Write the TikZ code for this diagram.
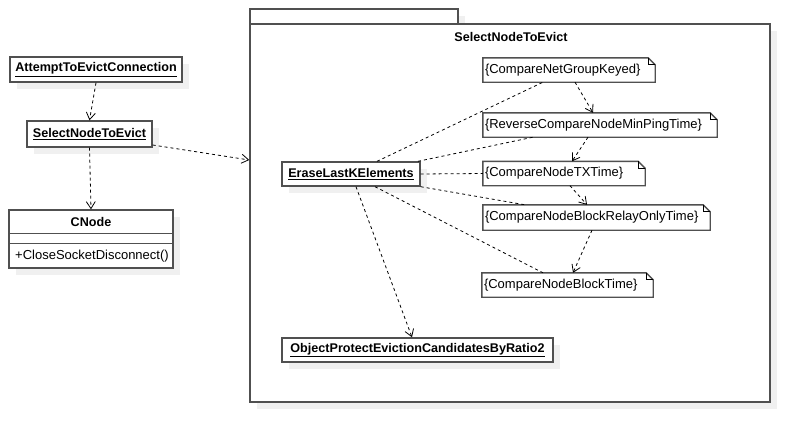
\documentclass[tikz,border=0pt]{standalone}
\usepackage{fontspec}
\setmainfont{Liberation Sans}
\usetikzlibrary{arrows.meta,shadows}
\definecolor{bord}{RGB}{80,80,80}
\definecolor{shad}{RGB}{240,240,240}
\tikzset{
  shd/.style={drop shadow={shadow xshift=7pt, shadow yshift=-7pt, fill=shad, opacity=1}},
  objbox/.style={draw=bord, line width=1.4pt, fill=white, inner sep=0pt, shd,
    font=\fontsize{12.6}{15}\selectfont\bfseries},
  pkgbox/.style={draw=bord, line width=1.4pt, fill=white, inner sep=0pt, shd},
  notebox/.style={draw=none, fill=white, inner sep=0pt},
  notetext/.style={inner sep=0pt, font=\fontsize{13}{15}\selectfont},
  dep/.style={draw=black, line width=0.8pt, dash pattern=on 3pt off 3pt,
    -{Straight Barb[length=7pt,width=9pt]}},
  lnk/.style={draw=black, line width=0.8pt, dash pattern=on 3pt off 3pt},
}
\newcommand\notedraw[1]{%
  \draw[bord, line width=1.4pt] (#1.south west) -- (#1.north west) -- ([xshift=-7pt]#1.north east)
     -- ([yshift=-7pt]#1.north east) -- (#1.south east) -- cycle;
  \draw[black, line width=0.7pt] ([xshift=-7pt]#1.north east) -- ([xshift=-7pt,yshift=-7pt]#1.north east)
     -- ([yshift=-7pt]#1.north east);
}
\begin{document}
\begin{tikzpicture}[x=1pt,y=-1pt]
\useasboundingbox[fill=white] (0,0) rectangle (810,442);

% package
\path[pkgbox] (250,9) rectangle (458,24);
\node[pkgbox, minimum width=520pt, minimum height=378pt] (pkg) at (510,213) {};
\node[inner sep=0pt, font=\fontsize{12.6}{15}\selectfont\bfseries] (pkgtitle) at (511,37) {SelectNodeToEvict};

% left side
\node[objbox, minimum width=172pt, minimum height=25pt] (attempt) at (96,69.5) {\underline{AttemptToEvictConnection}};
\node[objbox, minimum width=125pt, minimum height=26pt] (select) at (89.5,134) {\underline{SelectNodeToEvict}};
\node[pkgbox, minimum width=164pt, minimum height=58pt] (cnode) at (91,239) {};
\draw[bord, line width=0.8pt] ([yshift=-24pt]cnode.north west) -- ([yshift=-24pt]cnode.north east);
\draw[bord, line width=0.8pt] ([yshift=-34pt]cnode.north west) -- ([yshift=-34pt]cnode.north east);
\node[inner sep=0pt, font=\fontsize{12.6}{15}\selectfont\bfseries] (cnodet) at (91,222) {CNode};
\node[notetext, anchor=west] (cnodem) at (15,256) {+CloseSocketDisconnect()};

% inside package
\node[objbox, minimum width=138pt, minimum height=24pt] (erase) at (351,174) {\underline{EraseLastKElements}};
\node[objbox, minimum width=271pt, minimum height=24pt] (objprot) at (417.5,350) {\underline{ObjectProtectEvictionCandidatesByRatio2}};

\node[notebox, minimum width=172pt, minimum height=24pt] (n1) at (569,70) {};
\node[notebox, minimum width=234pt, minimum height=24pt] (n2) at (600,125) {};
\node[notebox, minimum width=162pt, minimum height=24pt] (n3) at (564,173.5) {};
\node[notebox, minimum width=227pt, minimum height=25pt] (n4) at (596.5,217.5) {};
\node[notebox, minimum width=171pt, minimum height=24pt] (n5) at (567.5,285) {};
\notedraw{n1}\notedraw{n2}\notedraw{n3}\notedraw{n4}\notedraw{n5}
\node[notetext, anchor=west] (n1t) at ([xshift=2pt]n1.west) {\{CompareNetGroupKeyed\}};
\node[notetext, anchor=west] (n2t) at ([xshift=2pt]n2.west) {\{ReverseCompareNodeMinPingTime\}};
\node[notetext, anchor=west] (n3t) at ([xshift=2pt]n3.west) {\{CompareNodeTXTime\}};
\node[notetext, anchor=west] (n4t) at ([xshift=2pt]n4.west) {\{CompareNodeBlockRelayOnlyTime\}};
\node[notetext, anchor=west] (n5t) at ([xshift=2pt]n5.west) {\{CompareNodeBlockTime\}};

% connectors
\draw[dep] (attempt.south) -- (select.north);
\draw[dep] (select.south) -- (cnode.north);
\draw[dep] ([yshift=-11pt]select.east) -- ([yshift=53pt]pkg.west);

\draw[dep] ([xshift=6pt]n1.south) -- ([xshift=-7pt]n2.north);
\draw[dep] ([xshift=-12pt]n2.south) -- ([xshift=8pt]n3.north);
\draw[dep] ([xshift=6pt]n3.south) -- ([xshift=-9.5pt]n4.north);
\draw[dep] ([xshift=-4.5pt]n4.south) -- ([xshift=5.5pt]n5.north);

\draw[lnk] ([xshift=26pt]erase.north) -- ([xshift=-26pt]n1.south);
\draw[lnk] ([xshift=67pt]erase.north) -- ([xshift=-67pt]n2.south);
\draw[lnk] (erase.east) -- (n3.west);
\draw[lnk] (erase.south east) -- ([xshift=-71.5pt]n4.north);
\draw[lnk] ([xshift=24pt]erase.south) -- ([xshift=-24.5pt]n5.north);
\draw[dep] ([xshift=5pt]erase.south) -- ([xshift=-5.5pt]objprot.north);
\end{tikzpicture}
\end{document}
